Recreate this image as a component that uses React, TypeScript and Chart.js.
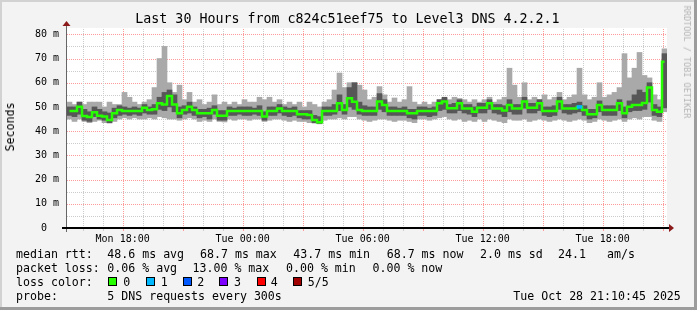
import React, { useEffect, useRef } from "react";
import { Chart, registerables } from "chart.js";

Chart.register(...registerables);

const FONT = "'DejaVu Sans Mono', 'Liberation Mono', monospace";

// time axis: minutes since Mon 00:00
const startMinute = 913;
const stepMinutes = 15;
const spanMinutes = 1800;

const medianRtt = [
  48.3, 48.3, 50.1, 46.3, 45.8, 47.8, 46.4, 46.0, 44.6, 47.4,
  48.7, 48.3, 48.3, 48.3, 48.3, 49.7, 48.7, 49.0, 51.5, 51.0,
  54.5, 51.0, 47.4, 48.7, 50.1, 48.7, 47.4, 47.4, 47.4, 48.7,
  46.4, 46.4, 48.3, 48.3, 48.3, 48.3, 48.3, 48.3, 48.3, 46.0,
  48.3, 48.3, 49.4, 48.3, 48.3, 48.3, 47.0, 47.0, 46.7, 44.6,
  43.7, 48.3, 48.3, 48.3, 51.5, 48.7, 53.6, 52.1, 48.7, 48.3,
  48.3, 48.3, 52.2, 50.8, 48.3, 48.3, 48.3, 48.3, 47.4, 47.4,
  48.3, 48.3, 48.3, 48.3, 51.5, 52.2, 49.5, 49.5, 51.5, 49.4,
  49.4, 48.0, 49.7, 49.7, 51.5, 49.4, 49.4, 48.5, 50.8, 49.4,
  49.4, 52.2, 49.7, 49.7, 51.5, 48.3, 48.3, 48.3, 52.2, 49.4,
  49.4, 49.4, 50.0, 48.7, 47.0, 47.0, 50.8, 48.7, 48.7, 48.7,
  51.5, 47.4, 50.1, 50.8, 50.8, 51.6, 58.0, 48.7, 48.0, 68.7,
];

const maxRtt = [
  52, 51, 52, 51, 52, 52, 52, 50, 52, 51,
  51, 56, 54, 52, 51, 52, 53, 58, 70, 75,
  60, 56, 59, 53, 56, 52, 53, 51, 52, 55,
  51, 52, 51, 52, 51, 53, 52, 52, 54, 53,
  54, 52, 53, 51, 52, 51, 52, 50, 52, 51,
  50, 52, 53, 57, 64, 58, 60, 60, 59, 57,
  53, 54, 58.4, 55, 52, 53.7, 52, 53, 58.4, 52,
  51, 52, 51, 52, 53, 53.5, 53, 54, 53.5, 53,
  52, 53, 52, 53, 54, 52, 53, 54, 66, 59,
  54, 60, 53, 54, 53, 55, 53, 54, 56, 53,
  54, 55, 66, 55, 53, 54, 60, 54, 55, 56,
  58, 72, 62, 66, 72.5, 63, 62, 55, 53, 74,
];

const minRtt = [
  45, 44, 45, 44, 43.5, 44, 44.5, 43.5, 43.3, 44,
  45, 45.5, 45, 45.5, 45, 45, 45.5, 45, 46, 45.5,
  45, 45, 44.5, 45, 45.5, 45, 44, 44.5, 44, 45,
  44, 43.8, 45, 44.5, 45, 45, 44.5, 45, 45, 44,
  44.5, 45, 45, 44.5, 44, 44.5, 44, 44, 43.5, 43.3,
  43, 44.5, 45, 45, 45.5, 45, 46, 46, 45, 44.5,
  44, 44.5, 45, 45, 44.5, 44, 44.5, 44.5, 44, 43.5,
  45, 45, 44.5, 45, 45.5, 46, 45, 44.5, 45, 44,
  44.5, 44, 45, 44, 45, 44.5, 44, 43.5, 45, 44.5,
  44.5, 45, 44, 44.5, 45, 44.5, 44, 44.5, 45, 44.5,
  44, 44.5, 45, 44.5, 43.5, 44, 45, 44.5, 44, 44.5,
  45, 44, 45, 45.5, 45, 46, 46, 44.5, 44, 48,
];

const innerHiRtt = [
  50, 50, 52, 49, 48, 50, 49, 48, 47.5, 49.5,
  50.5, 50, 49.5, 50, 49.5, 51, 50, 51, 54, 56,
  57, 55, 50, 50.5, 52, 50, 49, 49, 49.5, 50.5,
  48.5, 48.5, 50, 49.5, 50, 50, 50, 49.5, 50.5, 48,
  50, 50, 51, 50, 49.5, 50, 48.5, 48.5, 48.5, 46.5,
  46, 50, 50, 51, 55, 51, 58, 60, 52, 50.5,
  50, 50, 55.5, 53, 50, 50, 49.5, 50, 49, 49,
  50, 50, 49.5, 50, 53, 54, 51, 51.5, 53, 51,
  51, 50, 51.5, 51.5, 53, 51, 51, 50.5, 53, 51,
  51, 54, 51.5, 51.5, 53, 50, 50, 50.5, 54, 51,
  51, 51.5, 52, 50.5, 49, 49, 52.5, 50.5, 50.5, 50.5,
  53, 50, 52.5, 55, 57, 56, 60, 51, 50, 72,
];

const innerLoRtt = [
  46.5, 46, 47, 44.5, 44, 46, 45, 44.5, 43.5, 45.5,
  46.5, 47, 46.5, 47, 46.5, 47.5, 47, 47, 49, 48.5,
  50, 48, 45.5, 47, 47.5, 46.5, 45.5, 46, 45, 47,
  44.5, 44.5, 46.5, 46.5, 47, 46.5, 46.5, 47, 46.5, 44.5,
  46.5, 46.5, 47.5, 46.5, 46, 46.5, 45.5, 45, 45, 43.5,
  43.2, 46.5, 46.5, 47, 48.5, 47, 50, 49, 47, 46.5,
  46.5, 46.5, 49, 48, 46.5, 46.5, 46.5, 46.5, 45.5, 45,
  46.5, 46.5, 46, 46.5, 48.5, 49, 47.5, 47.5, 48.5, 47.5,
  47, 46, 47.5, 47.5, 49, 47.5, 47, 46, 48, 47,
  47, 49.5, 47.5, 47.5, 48.5, 46.5, 46, 46.5, 49, 47.5,
  47, 47.5, 48, 46.5, 45, 45.5, 48, 46.5, 46.5, 46.5,
  48.5, 45.5, 48, 48.5, 48.5, 49, 52, 46.5, 46, 49.6,
];

// steps that had packet loss and their loss level (pings lost of 5)
const lossSteps = [102];
const lossLevels = [1];

const lossColors = ["#26ff00", "#00b8ff", "#0059ff", "#7e00ff", "#ff0000", "#a10000"];
const lossNames = ["0", "1", "2", "3", "4", "5/5"];

const xLabelMinutes = [1080, 1440, 1800, 2160, 2520];
const xLabelTexts = ["Mon 18:00", "Tue 00:00", "Tue 06:00", "Tue 12:00", "Tue 18:00"];
const xGridStep = 60; // minor grid every hour
const xMajorStep = 180; // major grid every 3 hours
const yGridStep = 5;
const yMajorStep = 10;
const yTopTick = 80;
const yMaxValue = 82.6;

const titleText = "Last 30 Hours from c824c51eef75 to Level3 DNS 4.2.2.1";
const yAxisTitle = "Seconds";
const watermark = "RRDTOOL / TOBI OETIKER";
const rttStats = ["48.6 ms avg", "68.7 ms max", "43.7 ms min", "68.7 ms now", "2.0 ms sd", "24.1", "am/s"];
const lossStats = ["0.06 % avg", "13.00 % max", "0.00 % min", "0.00 % now"];
const probeText = "5 DNS requests every 300s";
const stampText = "Tue Oct 28 21:10:45 2025";

const W = 697;
const H = 310;

const isMultiple = (v: number, m: number) => Math.abs(v / m - Math.round(v / m)) < 1e-6;

const framePlugin = {
  id: "rrdFrame",
  beforeDraw(chart: any) {
    const { ctx, chartArea: a, width, height } = chart;
    ctx.save();
    ctx.fillStyle = "#f3f3f3";
    ctx.fillRect(0, 0, width, height);
    ctx.fillStyle = "#d2d2d2";
    ctx.fillRect(0, 0, width, 2);
    ctx.fillRect(0, 0, 2, height);
    ctx.fillStyle = "#9c9c9c";
    ctx.fillRect(0, height - 3, width, 3);
    ctx.fillRect(width - 3, 0, 3, height);
    ctx.fillStyle = "#ffffff";
    ctx.fillRect(a.left, a.top, a.right - a.left, a.bottom - a.top);

    // dotted grid from the scales' ticks
    const xs = chart.scales.x;
    const ys = chart.scales.y;
    const L = Math.round(a.left);
    const R = Math.round(a.right);
    const T = Math.round(a.top);
    const B = Math.round(a.bottom);
    const drawH = (major: boolean, py: number) => {
      ctx.fillStyle = major ? "#ff9a9a" : "#cccccc";
      for (let x = L; x < R; x += 2) ctx.fillRect(x, py, 1, 1);
    };
    const drawV = (major: boolean, px: number) => {
      ctx.fillStyle = major ? "#ff9a9a" : "#cccccc";
      for (let y = B - 1; y >= T; y -= 2) ctx.fillRect(px, y, 1, 1);
    };
    ys.ticks.forEach((t: any) => {
      if (t.value <= 0) return;
      drawH(isMultiple(t.value, yMajorStep), Math.round(ys.getPixelForValue(t.value)));
    });
    xs.ticks.forEach((t: any) => {
      drawV(isMultiple(t.value, xMajorStep), Math.round(xs.getPixelForValue(t.value)));
    });
    ctx.restore();
  },
  afterDraw(chart: any) {
    const { ctx, chartArea: a } = chart;
    const y0 = Math.round(chart.scales.y.getPixelForValue(0));
    const x0 = Math.round(chart.scales.x.getPixelForValue(startMinute));
    ctx.save();
    // y axis
    ctx.fillStyle = "#666666";
    ctx.fillRect(x0 - 1, a.top - 2, 1, y0 - a.top + 6);
    // x axis
    ctx.fillStyle = "#000000";
    ctx.fillRect(x0 - 5, y0 - 1, a.right - x0 + 7, 2);
    // small tick marks below the x axis at the grid positions
    chart.scales.x.ticks.forEach((t: any) => {
      const px = Math.round(chart.scales.x.getPixelForValue(t.value));
      ctx.fillStyle = isMultiple(t.value, xMajorStep) ? "#ff9a9a" : "#cccccc";
      ctx.fillRect(px, y0 + 1, 1, 2);
    });
    // arrows
    ctx.fillStyle = "#8b1a1a";
    ctx.beginPath();
    ctx.moveTo(a.right + 2, y0 - 4);
    ctx.lineTo(a.right + 7, y0);
    ctx.lineTo(a.right + 2, y0 + 4);
    ctx.closePath();
    ctx.fill();
    ctx.beginPath();
    ctx.moveTo(x0 - 4.5, a.top - 2);
    ctx.lineTo(x0 - 0.5, a.top - 7);
    ctx.lineTo(x0 + 3.5, a.top - 2);
    ctx.closePath();
    ctx.fill();
    ctx.restore();
  },
};

const textBase: React.CSSProperties = {
  position: "absolute",
  fontFamily: FONT,
  whiteSpace: "pre",
  color: "#000",
  margin: 0,
};

function Txt({ x, y, size, children }: { x: number; y: number; size: number; children: React.ReactNode }) {
  return (
    <div style={{ ...textBase, left: x, top: y, fontSize: size, lineHeight: "14px" }}>{children}</div>
  );
}

export default function App() {
  const ref = useRef<HTMLCanvasElement | null>(null);

  useEffect(() => {
    const canvas = ref.current;
    if (!canvas) return;
    const centers = medianRtt.map((_, i) => startMinute + stepMinutes * (i + 0.5));

    const chart = new Chart(canvas, {
      type: "bar",
      data: {
        datasets: [
          {
            type: "bar",
            label: "loss",
            data: lossSteps.map((s) => ({ x: centers[s], y: [medianRtt[s] - 0.6, medianRtt[s] + 0.6] })) as any,
            backgroundColor: lossSteps.map((_, k) => lossColors[lossLevels[k]]),
            borderWidth: 0,
            grouped: false,
            barPercentage: 1,
            categoryPercentage: 1,
            order: 0,
          } as any,
          {
            type: "line",
            label: "median",
            data: centers.map((x, i) => ({ x, y: medianRtt[i] })),
            borderColor: lossColors[0],
            borderWidth: 2.5,
            stepped: "middle",
            pointRadius: 0,
            fill: false,
            order: 1,
          } as any,
          {
            type: "bar",
            label: "inner",
            data: centers.map((x, i) => ({ x, y: [innerLoRtt[i], innerHiRtt[i]] })) as any,
            backgroundColor: "#575757",
            borderWidth: 0,
            grouped: false,
            barPercentage: 1,
            categoryPercentage: 1,
            order: 2,
          } as any,
          {
            type: "bar",
            label: "outer",
            data: centers.map((x, i) => ({ x, y: [minRtt[i], maxRtt[i]] })) as any,
            backgroundColor: "#a9a9a9",
            borderWidth: 0,
            grouped: false,
            barPercentage: 1,
            categoryPercentage: 1,
            order: 3,
          } as any,
        ],
      },
      options: {
        animation: false,
        responsive: false,
        devicePixelRatio: 1,
        layout: { padding: { left: 0, top: 28, right: 30, bottom: 0 } },
        plugins: { legend: { display: false }, tooltip: { enabled: false }, title: { display: false } },
        scales: {
          x: {
            type: "linear",
            min: startMinute,
            max: startMinute + spanMinutes,
            offset: false,
            grid: { display: false, offset: false, drawTicks: false },
            border: { display: false },
            ticks: {
              autoSkip: false,
              maxRotation: 0,
              minRotation: 0,
              padding: 5,
              color: "#000",
              font: { family: FONT, size: 10 },
              callback: (v: any) => {
                const k = xLabelMinutes.indexOf(Number(v));
                return k >= 0 ? xLabelTexts[k] : "";
              },
            },
            afterBuildTicks: (s: any) => {
              const ticks: any[] = [];
              const first = Math.ceil(startMinute / xGridStep) * xGridStep;
              for (let v = first; v < startMinute + spanMinutes; v += xGridStep) ticks.push({ value: v });
              s.ticks = ticks;
            },
            afterFit: (s: any) => {
              s.height = H - 228;
            },
          } as any,
          y: {
            type: "linear",
            min: 0,
            max: yMaxValue,
            grid: { display: false, drawTicks: false },
            border: { display: false },
            ticks: {
              autoSkip: false,
              padding: 8,
              color: "#000",
              font: { family: FONT, size: 10 },
              callback: (v: any) => {
                const n = Number(v);
                if (!isMultiple(n, yMajorStep)) return "";
                return n === 0 ? "0  " : `${n} m`;
              },
            },
            afterBuildTicks: (s: any) => {
              const ticks: any[] = [];
              for (let v = 0; v <= yTopTick; v += yGridStep) ticks.push({ value: v });
              s.ticks = ticks;
            },
            afterFit: (s: any) => {
              s.width = 67;
            },
          } as any,
        },
      },
      plugins: [framePlugin],
    });
    return () => chart.destroy();
  }, []);

  const rttX = [107.3, 200, 293.3, 386.7, 480, 558, 607];
  const lossX = [107.3, 192.5, 286, 372.5];
  const swatchX = [108.3, 145.7, 182.5, 219.3, 256.7, 293.3];
  const swatchLabelX = [123.3, 160.7, 197.3, 234, 270.7, 307.7];
  const rowTop = [246.7, 260.7, 274.7, 288.5];
  const legendSize = 11.6;

  return (
    <div style={{ position: "fixed", left: 0, top: 0, width: W, height: H, overflow: "hidden", background: "#f3f3f3" }}>
      <canvas ref={ref} width={W} height={H} style={{ position: "absolute", left: 0, top: 0, display: "block" }} />
      <div
        style={{
          ...textBase,
          left: 0,
          top: 11.4,
          width: 695,
          textAlign: "center",
          fontSize: 13.3,
          lineHeight: "16px",
        }}
      >
        {titleText}
      </div>
      <div
        style={{
          ...textBase,
          left: 10,
          top: 126.5,
          fontSize: 11.6,
          lineHeight: "14px",
          transform: "translate(-50%, -50%) rotate(-90deg)",
        }}
      >
        {yAxisTitle}
      </div>
      <div
        style={{
          ...textBase,
          left: 686.5,
          top: 61.5,
          fontSize: 8.5,
          lineHeight: "10px",
          color: "#b4b4b4",
          transform: "translate(-50%, -50%) rotate(90deg)",
        }}
      >
        {watermark}
      </div>

      <Txt x={16} y={rowTop[0]} size={legendSize}>median rtt:</Txt>
      {rttStats.map((t, i) => (
        <Txt key={"r" + i} x={rttX[i]} y={rowTop[0]} size={legendSize}>{t}</Txt>
      ))}
      <Txt x={16} y={rowTop[1]} size={legendSize}>packet loss:</Txt>
      {lossStats.map((t, i) => (
        <Txt key={"l" + i} x={lossX[i]} y={rowTop[1]} size={legendSize}>{t}</Txt>
      ))}
      <Txt x={16} y={rowTop[2]} size={legendSize}>loss color:</Txt>
      {lossNames.map((t, i) => (
        <React.Fragment key={"c" + i}>
          <div
            style={{
              position: "absolute",
              left: swatchX[i],
              top: 277,
              width: 9,
              height: 9,
              boxSizing: "border-box",
              border: "1px solid #000",
              background: lossColors[i],
            }}
          />
          <Txt x={swatchLabelX[i]} y={rowTop[2]} size={legendSize}>{t}</Txt>
        </React.Fragment>
      ))}
      <Txt x={16} y={rowTop[3]} size={legendSize}>probe:</Txt>
      <Txt x={107.3} y={rowTop[3]} size={legendSize}>{probeText}</Txt>
      <Txt x={513.3} y={rowTop[3]} size={legendSize}>{stampText}</Txt>
    </div>
  );
}
